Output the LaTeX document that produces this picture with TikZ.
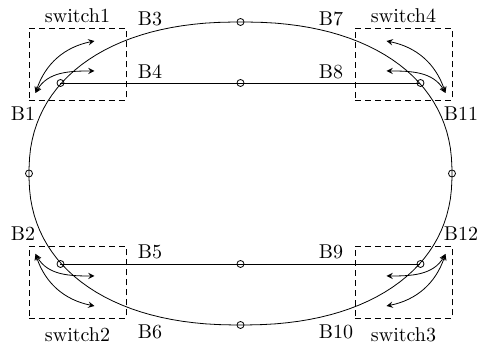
\documentclass[tikz,border=0pt]{standalone}
\usetikzlibrary{positioning}

\begin{document}
\begin{tikzpicture}[x=0.5pt, y=0.5pt, >=stealth,
    port/.style={circle, draw, inner sep=0pt, minimum size=3.5pt},
    swbox/.style={draw, dash pattern=on 3pt off 2pt, minimum width=48.5pt, minimum height=36pt}]
    \useasboundingbox (-240.5,-172.5) rectangle (243.5,173.5);

    % outer loop, a slightly squared ellipse
    \draw plot[domain=1.5:358.5, samples=120, variable=\t]
        ({211.5*sign(cos(\t))*abs(cos(\t))^0.889}, {151.5*sign(sin(\t))*abs(sin(\t))^0.889}) -- cycle;

    % stations on the loop and on the two sidings
    \node[port] (n)  at (0,151.5) {};
    \node[port] (s)  at (0,-151.5) {};
    \node[port] (w)  at (-211.5,0) {};
    \node[port] (e)  at (211.5,0) {};
    \node[port] (nw) at (-180,90.5) {};
    \node[port] (ne) at (180,90.5) {};
    \node[port] (sw) at (-180,-90.5) {};
    \node[port] (se) at (180,-90.5) {};
    \node[port] (nm) at (0,90.5) {};
    \node[port] (sm) at (0,-90.5) {};

    % sidings
    \draw (nw.center) -- (nm.center) -- (ne.center);
    \draw (sw.center) -- (sm.center) -- (se.center);

    % switch areas
    \node[swbox] (sw1) at (-163,109) {};
    \node[swbox] (sw2) at (-163,-109) {};
    \node[swbox] (sw3) at (163,-109) {};
    \node[swbox] (sw4) at (163,109) {};
    \node[above=-1pt of sw1] (sw1 text) {switch1};
    \node[below=1pt of sw2] (sw2 text) {switch2};
    \node[below=1pt of sw3] (sw3 text) {switch3};
    \node[above=-1pt of sw4] (sw4 text) {switch4};

    % switch directions
    \coordinate (t1) at (-205,80.5);
    \coordinate (a1) at (-146,132.5);
    \coordinate (b1) at (-146,102.5);
    \draw[<->] (t1) to[bend left=30] (a1);
    \draw[<->] (t1) to[out=60, in=180] (b1);

    \coordinate (t2) at (-205,-80.5);
    \coordinate (a2) at (-146,-132.5);
    \coordinate (b2) at (-146,-102.5);
    \draw[<->] (t2) to[bend right=30] (a2);
    \draw[<->] (t2) to[out=-60, in=180] (b2);

    \coordinate (t3) at (205,-80.5);
    \coordinate (a3) at (146,-132.5);
    \coordinate (b3) at (146,-102.5);
    \draw[<->] (t3) to[bend left=30] (a3);
    \draw[<->] (t3) to[out=240, in=0] (b3);

    \coordinate (t4) at (205,80.5);
    \coordinate (a4) at (146,132.5);
    \coordinate (b4) at (146,102.5);
    \draw[<->] (t4) to[bend right=30] (a4);
    \draw[<->] (t4) to[out=120, in=0] (b4);

    % block names
    \node (B1)  at (-217.5,60) {B1};
    \node (B2)  at (-217.5,-60) {B2};
    \node (B3)  at (-90.5,155) {B3};
    \node (B4)  at (-90.5,102) {B4};
    \node (B5)  at (-90.5,-78.5) {B5};
    \node (B6)  at (-90.5,-158.5) {B6};
    \node (B7)  at (90.5,155) {B7};
    \node (B8)  at (90.5,102) {B8};
    \node (B9)  at (90.5,-78.5) {B9};
    \node (B10) at (95.5,-158.5) {B10};
    \node (B11) at (220.5,60) {B11};
    \node (B12) at (220.5,-60) {B12};

\end{tikzpicture}
\end{document}
